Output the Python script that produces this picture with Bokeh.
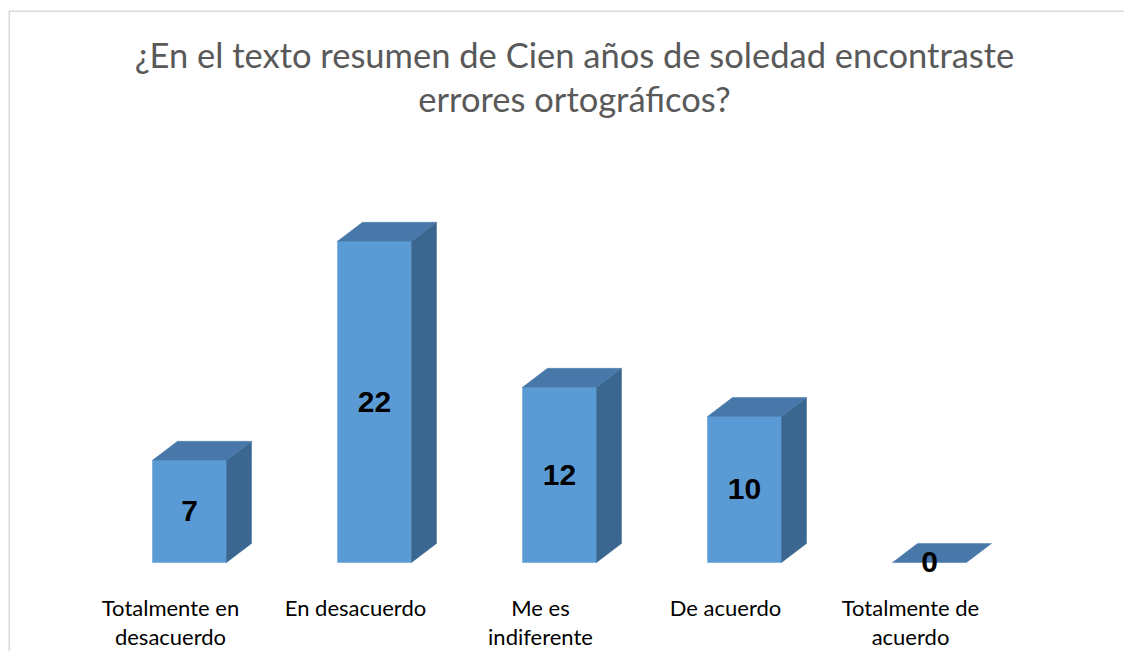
from bokeh.plotting import figure
from bokeh.models import Range1d, Label, Span
from bokeh.core.properties import value
from bokeh.embed import file_html
from bokeh.resources import INLINE

categories_line1 = ["Totalmente en", "En desacuerdo", "Me es", "De acuerdo", "Totalmente de"]
categories_line2 = ["desacuerdo", "", "indiferente", "", "acuerdo"]
values = [7, 22, 12, 10, 0]
title_lines = ["¿En el texto resumen de Cien años de soledad encontraste", "errores ortográficos?"]

FRONT = "#5B9BD5"
TOP = "#4778A9"
SIDE = "#3A6690"
BORDER = "#D9D9D9"

W, H = 1124, 651
x_start, y_start = -0.9784, -6.096
p = figure(width=W, height=H, output_backend="svg", toolbar_location=None,
           x_range=Range1d(x_start, 5.054), y_range=Range1d(y_start, 37.808),
           min_border_left=8, min_border_top=10, min_border_right=0, min_border_bottom=0)
p.xaxis.visible = False
p.yaxis.visible = False
p.grid.visible = False
p.outline_line_color = None
p.background_fill_color = "white"
p.border_fill_color = "white"

p.add_layout(Span(location=37.808, dimension="width", line_color=BORDER, line_width=3))
p.add_layout(Span(location=x_start, dimension="height", line_color=BORDER, line_width=3))

w = 0.4
dx = 0.135
dy = 1.3
xs = list(range(len(values)))

fx, fy, tx, ty, sx, sy = [], [], [], [], [], []
for i, v in zip(xs, values):
    x0, x1 = i - w / 2, i + w / 2
    tx.append([x0, x1, x1 + dx, x0 + dx]); ty.append([v, v, v + dy, v + dy])
    if v > 0:
        fx.append([x0, x1, x1, x0]); fy.append([0, 0, v, v])
        sx.append([x1, x1 + dx, x1 + dx, x1]); sy.append([0, dy, v + dy, v])

p.patches(fx, fy, fill_color=FRONT, line_color=FRONT, line_width=0.5)
p.patches(sx, sy, fill_color=SIDE, line_color=SIDE, line_width=0.5)
p.patches(tx, ty, fill_color=TOP, line_color=TOP, line_width=0.5)

p.text(x=xs, y=[v / 2 for v in values], text=[str(v) for v in values],
       text_font=value("Liberation Sans"), text_font_style="bold",
       text_font_size="30px", text_color="black",
       text_align="center", text_baseline="middle")

p.text(x=xs, y=[0] * 5, text=categories_line1, x_offset=-19, y_offset=45,
       text_font=value("Lato"), text_font_size="22px", text_color="#000000",
       text_align="center", text_baseline="middle")
p.text(x=xs, y=[0] * 5, text=categories_line2, x_offset=-19, y_offset=74,
       text_font=value("Lato"), text_font_size="22px", text_color="#000000",
       text_align="center", text_baseline="middle")

for line, yy in zip(title_lines, [597, 553]):
    p.add_layout(Label(x=566, y=yy, x_units="screen", y_units="screen", text=line,
                       text_font="Lato", text_font_size="34.5px", text_color="#595959",
                       text_align="center", text_baseline="middle"))

open("out.html", "w").write(file_html(p, INLINE))
